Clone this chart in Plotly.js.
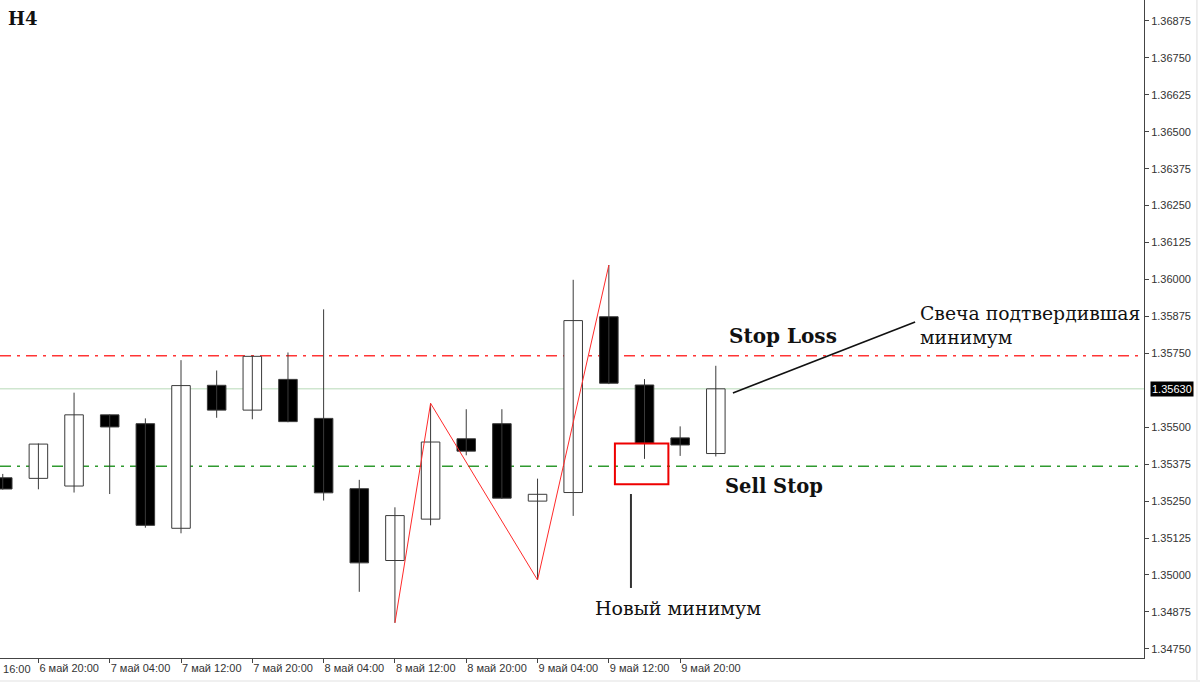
<!DOCTYPE html>
<html>
<head>
<meta charset="utf-8">
<script src="https://cdn.plot.ly/plotly-3.0.1.min.js"></script>
<style>html,body{margin:0;padding:0;background:#fff;}#chart{width:1200px;height:682px;}</style>
</head>
<body>
<div id="chart"></div>
<script>
// ---- data (H4 candles) ----
const barIndex = [0,1,2,3,4,5,6,7,8,9,10,11,12,13,14,15,16,17,18,19,20];
const opens  = [1.35329,1.35327,1.35301,1.35542,1.35512,1.35158,1.35642,1.35558,1.35662,1.35530,1.35292,1.35049,1.35189,1.35461,1.35512,1.35250,1.35279,1.35874,1.35643,1.35464,1.35411];
const highs  = [1.35342,1.35445,1.35617,1.35543,1.35530,1.35727,1.35692,1.35742,1.35753,1.35899,1.35322,1.35229,1.35581,1.35561,1.35561,1.35326,1.35999,1.36049,1.35663,1.35503,1.35708];
const lows   = [1.35289,1.35290,1.35279,1.35274,1.35160,1.35141,1.35532,1.35527,1.35517,1.35252,1.34943,1.34838,1.35168,1.35405,1.35258,1.34983,1.35200,1.35646,1.35393,1.35403,1.35401];
const closes = [1.35291,1.35443,1.35542,1.35501,1.35168,1.35641,1.35558,1.35740,1.35519,1.35278,1.35041,1.35201,1.35450,1.35419,1.35260,1.35273,1.35861,1.35649,1.35446,1.35440,1.35630];

const timeTickIndex = [-1,1,3,5,7,9,11,13,15,17,19];
const timeTickLabels = ["6 май 16:00","6 май 20:00","7 май 04:00","7 май 12:00","7 май 20:00","8 май 04:00","8 май 12:00","8 май 20:00","9 май 04:00","9 май 12:00","9 май 20:00"];

const priceTicks = [1.34750,1.34875,1.35000,1.35125,1.35250,1.35375,1.35500,1.35750,1.35875,1.36000,1.36125,1.36250,1.36375,1.36500,1.36625,1.36750,1.36875];
const currentPrice = 1.35630;
const stopLossLevel = 1.35742;
const sellStopLevel = 1.35368;

// zigzag pivots: candle index and which extreme
const zigzagIndex = [11,12,15,17];
const zigzagKind  = ['low','high','low','high'];

// annotation geometry (in data units)
const boxX = [17.17, 18.67], boxY = [1.35307, 1.35445];
const newLowPointer = {x: 17.62, y0: 1.35274, y1: 1.34956};
const candlePointer = {x0: 20.48, y0: 1.35616, x1: 25.59, y1: 1.35856};

const xRange = [-0.077, 32.01];
const yRange = [1.34719, 1.36946];

// ---- traces ----
const wickX = [], wickY = [];
barIndex.forEach((i, k) => { wickX.push(i, i, null); wickY.push(lows[k], highs[k], null); });

const wicks = {type:'scatter', mode:'lines', x:wickX, y:wickY,
  line:{color:'#3a3a3a', width:1}, hoverinfo:'skip'};

const bodies = {type:'bar', x:barIndex,
  base: barIndex.map((i,k)=>Math.min(opens[k],closes[k])),
  y: barIndex.map((i,k)=>Math.abs(closes[k]-opens[k])),
  width: 0.52,
  marker:{color: barIndex.map((i,k)=> closes[k] >= opens[k] ? '#ffffff' : '#000000'),
          line:{color:'#3a3a3a', width:1}},
  hoverinfo:'skip'};

const zigzag = {type:'scatter', mode:'lines',
  x: zigzagIndex,
  y: zigzagIndex.map((i,k)=> zigzagKind[k]==='low' ? lows[barIndex.indexOf(i)] : highs[barIndex.indexOf(i)]),
  line:{color:'#ff2a2a', width:1}, hoverinfo:'skip'};

// ---- layout ----
const serif = 'DejaVu Serif, Georgia, serif';
const sans = 'Liberation Sans, Arial, sans-serif';

const leftLabelPaperX = (timeTickIndex[0] - xRange[0])/(xRange[1]-xRange[0]);

const layout = {
  width:1200, height:682,
  margin:{l:0, r:56, t:0, b:24, pad:0},
  paper_bgcolor:'#ffffff', plot_bgcolor:'#ffffff',
  showlegend:false, bargap:0,
  xaxis:{range:xRange, showgrid:false, zeroline:false, showline:true, linecolor:'#444', linewidth:1,
    ticks:'outside', ticklen:4, tickcolor:'#444', tickwidth:1,
    tickmode:'array', tickvals:timeTickIndex.slice(1), ticktext:timeTickLabels.slice(1),
    ticklabelposition:'outside right',
    tickfont:{family:sans, size:11, color:'#333'}, fixedrange:true},
  yaxis:{range:yRange, side:'right', showgrid:false, zeroline:false, showline:true, linecolor:'#444', linewidth:1,
    ticks:'outside', ticklen:4, tickcolor:'#444', tickwidth:1,
    tickmode:'array', tickvals:priceTicks, ticktext:priceTicks.map(v=>v.toFixed(5)),
    tickfont:{family:sans, size:11, color:'#333'}, fixedrange:true},
  shapes:[
    {type:'line', xref:'paper', x0:0, x1:1, yref:'y', y0:currentPrice, y1:currentPrice, line:{color:'#cfe6cf', width:1.5}, layer:'below'},
    {type:'line', xref:'paper', x0:0, x1:1, yref:'y', y0:stopLossLevel, y1:stopLossLevel, line:{color:'#ff3535', width:1.6, dash:'11px,6px,3px,6px'}, layer:'below'},
    {type:'line', xref:'paper', x0:0, x1:1, yref:'y', y0:sellStopLevel, y1:sellStopLevel, line:{color:'#2f9a2f', width:1.6, dash:'11px,6px,3px,6px'}, layer:'below'},
    {type:'rect', xref:'x', yref:'y', x0:boxX[0], x1:boxX[1], y0:boxY[0], y1:boxY[1], line:{color:'#ee0000', width:2}},
    {type:'line', xref:'x', yref:'y', x0:newLowPointer.x, x1:newLowPointer.x, y0:newLowPointer.y0, y1:newLowPointer.y1, line:{color:'#333', width:2}},
    {type:'line', xref:'x', yref:'y', x0:candlePointer.x0, x1:candlePointer.x1, y0:candlePointer.y0, y1:candlePointer.y1, line:{color:'#111', width:1.6}},
    {type:'line', xref:'paper', yref:'paper', x0:1.0463, x1:1.0463, y0:-0.04, y1:1, line:{color:'#dddddd', width:1}},
    {type:'rect', xref:'paper', yref:'paper', x0:-0.01, x1:1.05, y0:-0.0334, y1:-0.04, fillcolor:'#f0f0f0', line:{width:0}}
  ],
  annotations:[
    {xref:'paper', yref:'paper', x:0.005, y:1, xanchor:'left', yanchor:'top', yshift:-6, text:'<b>H4</b>', showarrow:false,
      font:{family:serif, size:18, color:'#111'}},
    {xref:'x', yref:'y', x:21.89, y:1.35809, text:'<b>Stop Loss</b>', showarrow:false,
      font:{family:serif, size:20, color:'#111'}},
    {xref:'x', yref:'y', x:21.63, y:1.35298, text:'<b>Sell Stop</b>', showarrow:false,
      font:{family:serif, size:19.5, color:'#111'}},
    {xref:'x', yref:'y', x:25.67, y:1.35846, xanchor:'left', align:'left', text:'Свеча подтвердившая<br>минимум', showarrow:false,
      font:{family:serif, size:18.8, color:'#111'}},
    {xref:'x', yref:'y', x:18.94, y:1.34889, text:'Новый минимум', showarrow:false,
      font:{family:serif, size:19, color:'#111'}},
    {xref:'paper', yref:'y', x:1, y:currentPrice, xanchor:'left', xshift:6, text:currentPrice.toFixed(5), showarrow:false,
      bgcolor:'#000000', borderpad:1, font:{family:sans, size:11, color:'#ffffff'}},
    {xref:'paper', yref:'paper', x:leftLabelPaperX, y:0, xanchor:'left', yanchor:'top', xshift:2, yshift:-3,
      text:timeTickLabels[0], showarrow:false, font:{family:sans, size:11, color:'#333'}}
  ]
};

Plotly.newPlot('chart', [wicks, bodies, zigzag], layout, {staticPlot:true, displayModeBar:false});
</script>
</body>
</html>
